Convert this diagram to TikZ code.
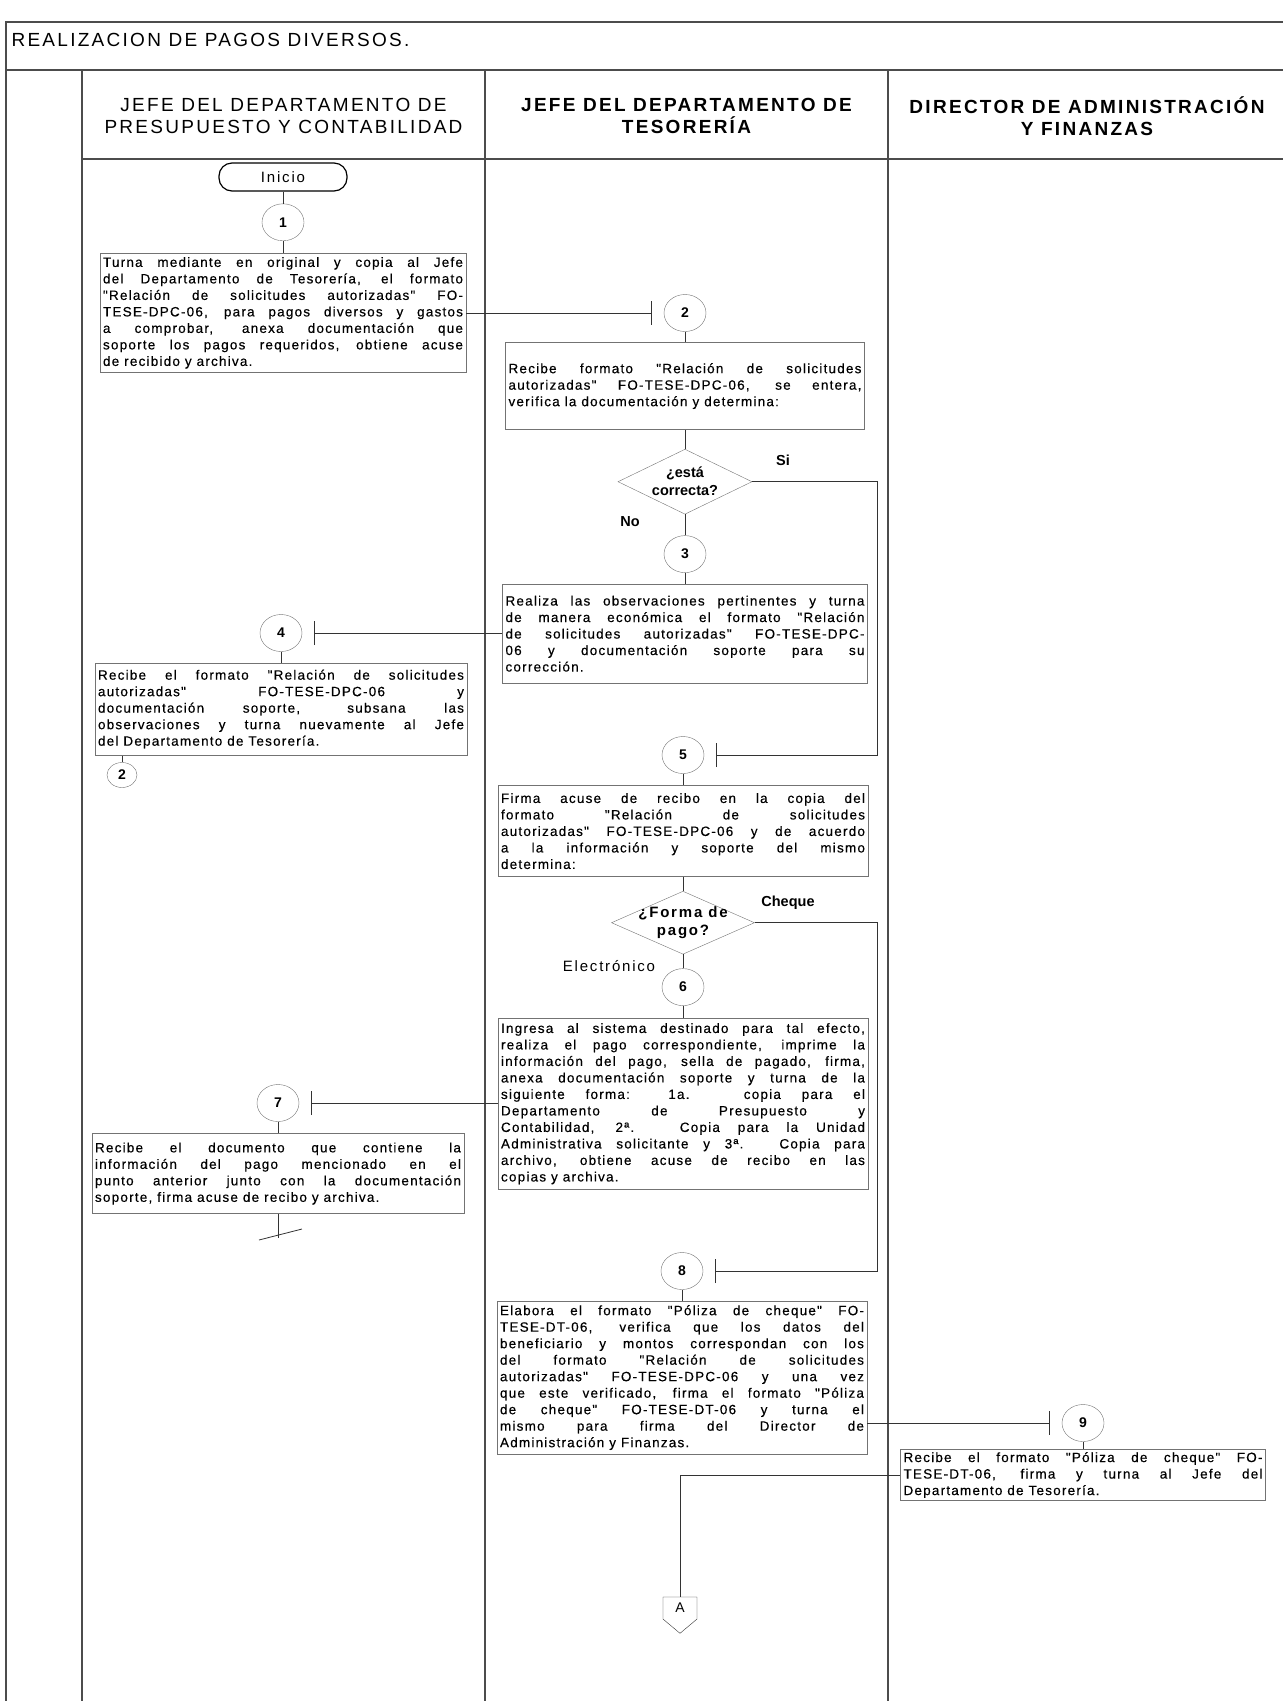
\documentclass[tikz,border=0pt]{standalone}
\usepackage{fontspec}
\setmainfont{Liberation Sans}
\newfontfamily\cajafont[LetterSpace=9, FakeBold=0.4]{Liberation Sans}
\newfontfamily\carrilfont[LetterSpace=12]{Liberation Sans}
\usetikzlibrary{arrows.meta,positioning,shapes.geometric,shapes.symbols}

\newcommand{\textocaja}{\cajafont\fontsize{13.5}{16.5}\selectfont
  \hyphenpenalty=10000 \exhyphenpenalty=10000 \tolerance=10000 \hbadness=10000}

\begin{document}
\begin{tikzpicture}[x=1pt, y=-1pt,
  marco/.style={draw=black!70, line width=1.2pt},
  carril/.style={align=center, font=\carrilfont\fontsize{19}{22}\selectfont},
  carrilb/.style={carril, font=\carrilfont\bfseries\fontsize{19}{22}\selectfont},
  inicio/.style={draw, line width=1.2pt, rounded corners=13pt, minimum width=128pt,
                 minimum height=28pt, font=\carrilfont\fontsize{15}{15}\selectfont},
  paso/.style={ellipse, draw=black!55, minimum width=42pt, minimum height=37pt,
               inner sep=0pt, font=\bfseries\fontsize{14}{14}\selectfont},
  conector/.style={paso, minimum width=30pt, minimum height=25pt},
  caja/.style 2 args={draw=black!55, line width=0.8pt, align=justify, inner sep=3pt,
                      text width=#1, minimum height=#2, font=\textocaja},
  decision/.style={diamond, draw=black!55, aspect=2, minimum width=134pt,
                   minimum height=65pt, inner sep=-5pt, align=center,
                   font=\bfseries\fontsize{14.5}{18}\selectfont},
  etiqueta/.style={font=\bfseries\fontsize{14.5}{15}\selectfont},
  linea/.style={draw=black!80, line width=0.8pt},
  abar/.style={linea, -{Bar[width=24pt, line width=1pt]}, shorten >=12pt}]
\useasboundingbox (0,0) rectangle (1283,1701);
% marco y carriles
\draw[marco] (1283,22) -- (6,22) -- (6,1701);
\draw[marco] (6,70) -- (1283,70);
\draw[marco] (82,159) -- (1283,159);
\foreach \x in {82,485,888} \draw[marco] (\x,70) -- (\x,1701);
\node[anchor=west, font=\carrilfont\fontsize{19}{22}\selectfont] (titulo) at (8,40)
  {REALIZACION DE PAGOS DIVERSOS.};
\node[carril] (h1) at (283.5,116) {JEFE DEL DEPARTAMENTO DE\\PRESUPUESTO Y CONTABILIDAD};
\node[carrilb] (h2) at (686.5,116) {JEFE DEL DEPARTAMENTO DE\\TESORERÍA};
\node[carrilb] (h3) at (1087,116) {DIRECTOR DE ADMINISTRACIÓN\\Y FINANZAS};

% pasos
\node[inicio] (ini) at (283,177) {Inicio};
\node[paso, below=12pt of ini] (c1) {1};
\node[caja={360pt}{119pt}, below=12pt of c1] (b1) {Turna mediante en original y copia al Jefe\linebreak
del Departamento de Tesorería, el formato\linebreak
"Relación de solicitudes autorizadas" FO-\linebreak
TESE-DPC-06, para pagos diversos y gastos\linebreak
a comprobar, anexa documentación que\linebreak
soporte los pagos requeridos, obtiene acuse\linebreak
de recibido y archiva.};

\node[paso] (c2) at (685,313) {2};
\node[caja={353pt}{87pt}, below=10.5pt of c2] (b2) {Recibe formato "Relación de solicitudes\linebreak
autorizadas" FO-TESE-DPC-06, se entera,\linebreak
verifica la documentación y determina:};
\node[decision, below=19pt of b2] (d1) {¿está\\correcta?};
\node[paso, below=21pt of d1] (c3) {3};
\node[caja={359pt}{99pt}, below=11pt of c3] (b3) {Realiza las observaciones pertinentes y turna\linebreak
de manera económica el formato "Relación\linebreak
de solicitudes autorizadas" FO-TESE-DPC-\linebreak
06 y documentación soporte para su\linebreak
corrección.};

\node[paso] (c4) at (281,633) {4};
\node[caja={366pt}{92pt}, below=11pt of c4] (b4) {Recibe el formato "Relación de solicitudes\linebreak
autorizadas" FO-TESE-DPC-06 y\linebreak
documentación soporte, subsana las\linebreak
observaciones y turna nuevamente al Jefe\linebreak
del Departamento de Tesorería.};
\node[conector] (k2) at (122,775) {2};

\node[paso] (c5) at (683,755) {5};
\node[caja={364pt}{91pt}, below=11.5pt of c5] (b5) {Firma acuse de recibo en la copia del\linebreak
formato "Relación de solicitudes\linebreak
autorizadas" FO-TESE-DPC-06 y de acuerdo\linebreak
a la información y soporte del mismo\linebreak
determina:};
\node[decision, minimum width=143pt, minimum height=63pt,
      font=\carrilfont\bfseries\fontsize{15}{18}\selectfont, below=14pt of b5] (d2) {¿Forma de\\pago?};
\node[paso, below=14pt of d2] (c6) {6};
\node[caja={364pt}{171pt}, below=12pt of c6] (b6) {Ingresa al sistema destinado para tal efecto,\linebreak
realiza el pago correspondiente, imprime la\linebreak
información del pago, sella de pagado, firma,\linebreak
anexa documentación soporte y turna de la\linebreak
siguiente forma: 1a. copia para el\linebreak
Departamento de Presupuesto y\linebreak
Contabilidad, 2ª. Copia para la Unidad\linebreak
Administrativa solicitante y 3ª. Copia para\linebreak
archivo, obtiene acuse de recibo en las\linebreak
copias y archiva.};

\node[paso] (c7) at (278,1103) {7};
\node[caja={366pt}{80pt}, below=11.5pt of c7] (b7) {Recibe el documento que contiene la\linebreak
información del pago mencionado en el\linebreak
punto anterior junto con la documentación\linebreak
soporte, firma acuse de recibo y archiva.};
\coordinate[below=24pt of b7] (fin);

\node[paso] (c8) at (682,1271) {8};
\node[caja={364pt}{153pt}, below=11pt of c8] (b8) {Elabora el formato "Póliza de cheque" FO-\linebreak
TESE-DT-06, verifica que los datos del\linebreak
beneficiario y montos correspondan con los\linebreak
del formato "Relación de solicitudes\linebreak
autorizadas" FO-TESE-DPC-06 y una vez\linebreak
que este verificado, firma el formato "Póliza\linebreak
de cheque" FO-TESE-DT-06 y turna el\linebreak
mismo para firma del Director de\linebreak
Administración y Finanzas.};

\node[paso] (c9) at (1083,1423) {9};
\node[caja={359pt}{49pt}, below=7pt of c9] (b9) {Recibe el formato "Póliza de cheque" FO-\linebreak
TESE-DT-06, firma y turna al Jefe del\linebreak
Departamento de Tesorería.};

\node[draw=black!80, signal, signal to=south, signal pointer angle=100, minimum width=34pt,
      minimum height=26pt, inner sep=0pt, font=\fontsize{14}{14}\selectfont] (A) at (680,1608) {A};

% etiquetas de decision
\node[etiqueta] (si) at (783,460) {Si};
\node[etiqueta] (no) at (630,522) {No};
\node[etiqueta] (cheque) at (788,903) {Cheque};
\node[font=\carrilfont\fontsize{15}{15}\selectfont] (elec) at (609,966) {Electrónico};

% conexiones
\coordinate (der) at (877,0);
\draw[linea] (ini) -- (c1);
\draw[linea] (c1) -- (b1);
\draw[abar] (b1.east |- c2) -- (c2);
\draw[linea] (c2) -- (b2);
\draw[linea] (b2) -- (d1);
\draw[linea] (d1) -- (c3);
\draw[linea] (c3) -- (b3);
\draw[abar] (d1.east) -| (der |- c5) -- (c5);
\draw[abar] (b3.west |- c4) -- (c4);
\draw[linea] (c4) -- (b4);
\draw[linea] (b4.south -| k2) -- (k2);
\draw[linea] (c5) -- (b5);
\draw[linea] (b5) -- (d2);
\draw[linea] (d2) -- (c6);
\draw[linea] (c6) -- (b6);
\draw[abar] (d2.east) -| (der |- c8) -- (c8);
\draw[abar] (b6.west |- c7) -- (c7);
\draw[linea] (c7) -- (b7);
\draw[linea] (b7) -- (fin);
\draw[linea] ([shift={(-19,2)}]fin) -- ([shift={(24,-9)}]fin);
\draw[linea] (c8) -- (b8);
\draw[abar] (b8.east |- c9) -- (c9);
\draw[linea] (c9) -- (b9);
\draw[linea] (b9.west) -| (A);
\end{tikzpicture}
\end{document}
